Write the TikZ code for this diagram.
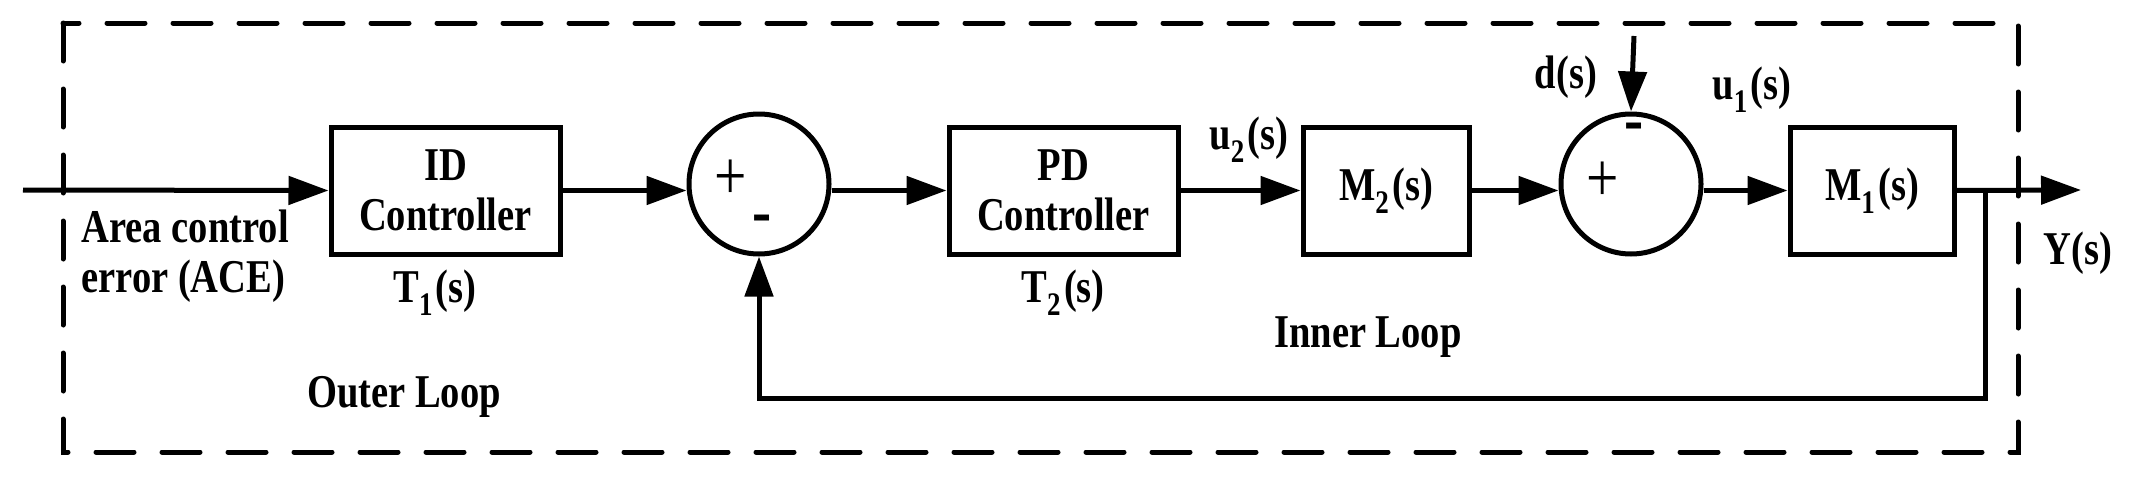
\documentclass[tikz,border=0pt]{standalone}
\usepackage{fontspec}
\setmainfont[FakeStretch=0.82]{Liberation Serif}
\usetikzlibrary{positioning, calc, arrows.meta}

\begin{document}
\begin{tikzpicture}
    [x=1pt, y=-1pt, line width=5pt,
    font=\fontsize{47}{50}\selectfont\bfseries,
    blocknode/.style={rectangle, draw=black, line width=5pt, minimum width=#1, minimum height=127pt, inner sep=0pt, align=center},
    sumnode/.style={circle, draw=black, line width=5pt, minimum size=140pt, inner sep=0pt},
    sig/.style={-{Triangle[length=40pt,width=28pt]}},
    label/.style={inner sep=0pt, align=left},]

    \useasboundingbox (0,0) rectangle (2148,479);

    %Frame
    \draw[dash pattern=on 38pt off 28pt, line cap=round] (63,23) rectangle (2018,452);

    %Nodes
    \node[blocknode=229pt](ID) at (445.5,190.5){ID\\Controller};
    \node[sumnode](S1) at (759,184){};
    \node[blocknode=229pt](PD) at (1063.5,190.5){PD\\Controller};
    \node[blocknode=166pt](M2) at (1386,190.5){M$_\mathbf{2}$(s)};
    \node[sumnode](S2) at (1631,184){};
    \node[blocknode=164pt](M1) at (1872,190.5){M$_\mathbf{1}$(s)};

    \coordinate (in) at (23,190);
    \coordinate (out) at (2081,190);
    \coordinate (br) at (1985,190);
    \coordinate (dtop) at (1634,36);

    %Signs
    \node[label] at (731,180){\fontsize{70}{70}\selectfont\mdseries +};
    \node[label] at (762,225){\fontsize{70}{70}\selectfont -};
    \node[label] at (1603,182){\fontsize{70}{70}\selectfont\mdseries +};
    \node[label] at (1634,133){\fontsize{70}{70}\selectfont -};

    %Lines
    \draw[sig](in)--(ID.west);
    \draw[sig](ID.east)--(S1.west |- ID.east);
    \draw[sig](S1.east |- PD.west)--(PD.west);
    \draw[sig](PD.east)--(M2.west);
    \draw[sig](M2.east)--(S2.west |- M2.east);
    \draw[sig](S2.east |- M1.west)--(M1.west);
    \draw[sig](M1.east)--(out);
    \draw[sig](dtop)--(S2.north);
    \draw[sig](br)--($(br)+(0,208)$)-|(S1.south);

    %Labels
    \node[label, anchor=west](ACE) at (79,256){Area control\\error (ACE)};
    \node[label](T1) at (435,293){T$_\mathbf{1}$(s)};
    \node[label](T2) at (1063,293){T$_\mathbf{2}$(s)};
    \node[label](u2) at (1249,140){u$_\mathbf{2}$(s)};
    \node[label](dlab) at (1566,77){d(s)};
    \node[label](u1) at (1752,90){u$_\mathbf{1}$(s)};
    \node[label, anchor=west](Y) at (2041,253){Y(s)};
    \node[label](outer) at (404,397){Outer Loop};
    \node[label](inner) at (1368,337){Inner Loop};

\end{tikzpicture}
\end{document}
